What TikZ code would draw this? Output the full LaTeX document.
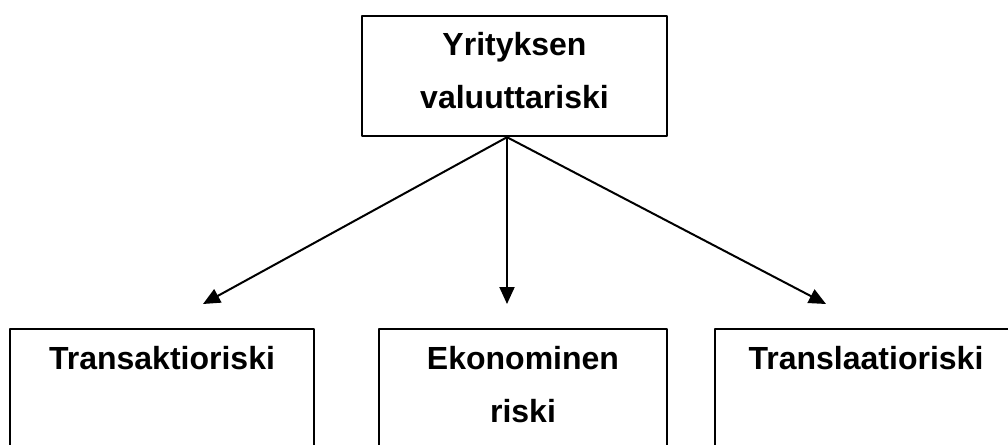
\documentclass[tikz,border=0pt]{standalone}
\usepackage{fontspec}
\setmainfont{Liberation Sans}
\usetikzlibrary{arrows.meta,positioning}

\begin{document}
\begin{tikzpicture}[x=1pt, y=-1pt, line join=round, >={Triangle[length=17pt,width=15pt]},
        box/.style={draw, line width=2.4pt, inner sep=0pt},
        txt/.style={inner sep=0pt, align=center, font=\fontsize{32}{53}\selectfont\bfseries},
        arr/.style={->, line width=2pt}]
            \useasboundingbox (0,0) rectangle (1008,444);
            \clip (0,0) rectangle (1008,444);
            \node[box, minimum width=305pt, minimum height=120pt] (risk) at (514.5,76) {};
            \node[box, minimum width=304pt, minimum height=130pt] (trans) at (162,394) {};
            \node[box, minimum width=288pt, minimum height=130pt] (eko) at (523,394) {};
            \node[box, minimum width=302pt, minimum height=130pt] (transl) at (866,394) {};
            \node[txt, below=17pt of risk.north] (risktxt) {Yrityksen\\valuuttariski};
            \node[txt, below=18pt of trans.north] (transtxt) {Transaktioriski};
            \node[txt, below=18pt of eko.north] (ekotxt) {Ekonominen\\riski};
            \node[txt, below=18pt of transl.north] (transltxt) {Translaatioriski};
            \coordinate (src) at ([xshift=-7.5pt]risk.south);
            \coordinate (transtip) at (203,304);
            \coordinate (ekotip) at (507,304);
            \coordinate (transltip) at (826,304);
            \draw[arr] (src) -- (transtip);
            \draw[arr] (src) -- (ekotip);
            \draw[arr] (src) -- (transltip);
        \end{tikzpicture}
\end{document}
